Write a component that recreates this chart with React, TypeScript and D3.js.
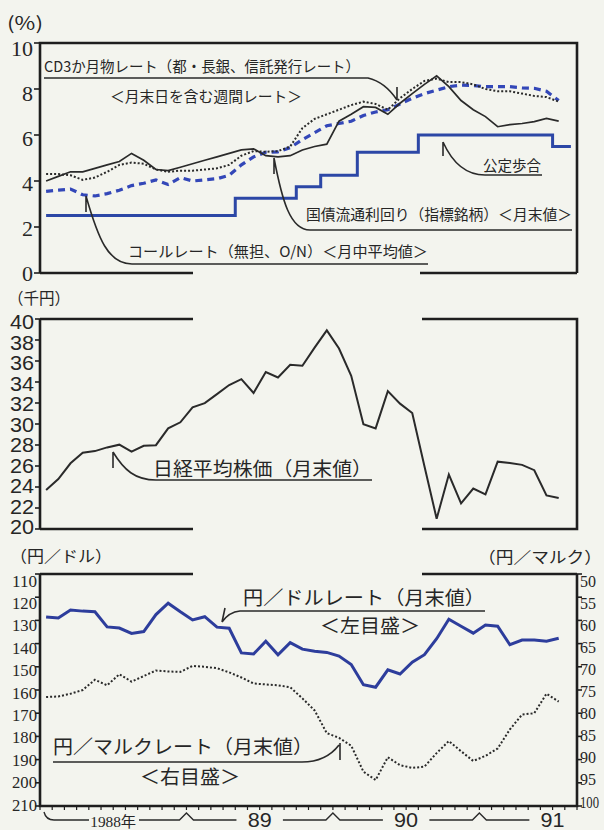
import React, { useEffect } from "react";
import * as d3 from "d3";

// Month index 0 = Jan 1988 ... 43 = Aug 1991 (values are month points)
const monthCount = 44;
const yearLabels = ["1988年", "89", "90", "91"];

// Panel 1 (%)
const cdRate = [
  4.0, 4.2, 4.4, 4.4, 4.55, 4.7, 4.85, 5.2, 4.9, 4.5, 4.45, 4.6,
  4.75, 4.9, 5.05, 5.2, 5.35, 5.4, 5.1, 5.05, 5.1, 5.35, 5.5, 5.6,
  6.6, 6.9, 7.23, 7.2, 6.9, 7.38, 7.8, 8.2, 8.57, 8.1, 7.5, 7.1,
  6.8, 6.36, 6.45, 6.5, 6.58, 6.72, 6.6,
];
const bondYield = [
  4.3, 4.3, 4.25, 4.05, 4.15, 4.4, 4.7, 4.8, 4.75, 4.5, 4.4, 4.45,
  4.45, 4.5, 4.55, 4.7, 5.1, 5.3, 5.27, 5.3, 5.5, 6.3, 6.7, 6.9,
  7.1, 7.3, 7.45, 7.35, 7.1, 7.6, 8.0, 8.35, 8.45, 8.3, 8.3, 8.2,
  8.0, 7.9, 7.9, 7.8, 7.7, 7.65, 7.45,
];
const callRate = [
  3.55, 3.6, 3.65, 3.4, 3.35, 3.45, 3.6, 3.8, 3.9, 4.05, 3.85, 4.15,
  4.0, 4.05, 4.1, 4.25, 4.7, 5.05, 5.25, 5.27, 5.45, 5.8, 6.1, 6.4,
  6.5, 6.6, 6.85, 7.0, 7.1, 7.35, 7.6, 7.8, 7.95, 8.1, 8.17, 8.15,
  8.1, 8.1, 8.1, 8.05, 8.03, 7.9, 7.5,
];
const discountRate = [
  2.5, 2.5, 2.5, 2.5, 2.5, 2.5, 2.5, 2.5, 2.5, 2.5, 2.5, 2.5,
  2.5, 2.5, 2.5, 2.5, 3.25, 3.25, 3.25, 3.25, 3.25, 3.75, 3.75, 4.25,
  4.25, 4.25, 5.25, 5.25, 5.25, 5.25, 5.25, 6.0, 6.0, 6.0, 6.0, 6.0,
  6.0, 6.0, 6.0, 6.0, 6.0, 6.0, 5.5, 5.5,
];
const pctTicks = [0, 2, 4, 6, 8, 10];

// Panel 2 (thousand yen)
const nikkei = [
  23.72, 24.76, 26.26, 27.26, 27.42, 27.77, 28.03, 27.37, 27.92, 27.98, 29.58, 30.16,
  31.58, 31.99, 32.84, 33.71, 34.27, 32.95, 34.95, 34.43, 35.64, 35.55, 37.27, 38.92,
  37.19, 34.59, 29.98, 29.58, 33.13, 31.94, 31.04, 25.98, 20.98, 25.19, 22.45, 23.85,
  23.29, 26.41, 26.29, 26.11, 25.6, 23.2, 22.95,
];
const nikkeiTicks = [20, 22, 24, 26, 28, 30, 32, 34, 36, 38, 40];

// Panel 3
const usdJpy = [
  128.5, 129.0, 125.5, 126.0, 126.3, 132.8, 133.3, 135.6, 134.8, 127.5, 122.6, 126.3,
  129.8, 128.4, 132.9, 133.4, 144.0, 144.5, 139.0, 144.8, 139.6, 142.4, 143.3, 143.8,
  145.4, 149.0, 157.7, 158.8, 151.3, 153.1, 148.0, 144.8, 137.9, 129.5, 132.5, 135.5,
  132.0, 132.5, 140.5, 138.5, 138.5, 139.0, 137.7,
];
const demJpy = [
  76.5, 76.4, 75.8, 75.0, 72.8, 74.0, 71.6, 73.2, 72.0, 70.8, 71.0, 71.1,
  69.8, 70.0, 70.3, 71.2, 72.3, 73.6, 73.8, 74.0, 74.4, 76.8, 79.4, 84.3,
  85.3, 87.0, 92.6, 94.4, 89.5, 91.2, 91.8, 91.5, 88.6, 86.0, 88.2, 90.3,
  89.2, 87.6, 83.5, 80.3, 80.0, 75.8, 77.5,
];
const usdTicks = [110, 120, 130, 140, 150, 160, 170, 180, 190, 200, 210];
const demTicks = [50, 55, 60, 65, 70, 75, 80, 85, 90, 95, 100];

const INK = "#1e1e1e";
const LINE = "#2a2a2a";
const BLUE = "#2c47a6";
const JP = "'Noto Sans CJK JP', 'Noto Sans', sans-serif";
const SERIF = "'Liberation Serif', 'DejaVu Serif', serif";
const SANS = "'Liberation Sans', 'DejaVu Sans', sans-serif";

function Label(props: {
  x: number; y: number; text: string; size: number; width?: number;
  anchor?: string; family?: string;
}) {
  const { x, y, text, size, width, anchor, family } = props;
  return (
    <text
      x={x}
      y={y}
      fontSize={size}
      fontFamily={family || JP}
      fill="#262626"
      dominantBaseline="central"
      textAnchor={anchor || "start"}
      {...(width ? { textLength: width, lengthAdjust: "spacingAndGlyphs" } : {})}
    >
      {text}
    </text>
  );
}

// label nudge: labels sit a little below their tick near the top of an axis
const nudge = (frac: number, top: number, bottom: number) => top + (bottom - top) * frac;

export default function App() {
  useEffect(() => {
    document.body.style.margin = "0";
  }, []);

  const x = d3.scaleLinear().domain([0, monthCount]).range([40, 577]);
  const cx = (i: number) => x(i + 0.5);
  const y1 = d3.scaleLinear().domain([0, 10]).range([273, 43]);
  const y2 = d3.scaleLinear().domain([20, 40]).range([529, 319]);
  const y3l = d3.scaleLinear().domain([110, 210]).range([574, 806]);
  const y3r = d3.scaleLinear().domain([50, 100]).range([574, 806]);

  const mk = (ys: d3.ScaleLinear<number, number>, curve = d3.curveLinear) =>
    d3.line<number>().x((_, i) => cx(i)).y((d) => ys(d)).curve(curve);

  const frame = { stroke: INK, strokeWidth: 2.6, fill: "none" };

  const yb = [x(12), x(24), x(36)];
  const yc = [x(6), x(18), x(30), x(42)];

  return (
    <svg
      width={604}
      height={830}
      viewBox="0 0 604 830"
      style={{ position: "absolute", left: 0, top: 0, display: "block" }}
    >
      <rect x={0} y={0} width={604} height={830} fill="#f3f4ee" />

      {/* ---------------- Panel 1 ---------------- */}
      <Label x={7} y={22} text="(%)" size={18} width={36} />
      <path d="M40,273 V43 H577 V273" {...frame} />
      <path d="M40,273 H193 M420,273 H577" {...frame} />
      {pctTicks.map((t, i) => (
        <g key={"p1" + t}>
          <line x1={34} x2={40} y1={y1(t)} y2={y1(t)} stroke={INK} strokeWidth={1.6} />
          <Label
            x={33}
            y={y1(t) + nudge(i / (pctTicks.length - 1), 0, 5)}
            text={String(t)}
            size={22}
            anchor="end"
            family={SERIF}
          />
        </g>
      ))}
      <path d={mk(y1, d3.curveStep)(discountRate) || ""} fill="none" stroke={BLUE} strokeWidth={3} />
      <path d={mk(y1)(callRate) || ""} fill="none" stroke="#3347b8" strokeWidth={3.2} strokeDasharray="7 5" />
      <path d={mk(y1)(bondYield) || ""} fill="none" stroke={LINE} strokeWidth={2} strokeDasharray="2 2" />
      <path d={mk(y1)(cdRate) || ""} fill="none" stroke={LINE} strokeWidth={1.7} />

      <Label x={44} y={65} text="CD3か月物レート（都・長銀、信託発行レート）" size={15} width={316} />
      <path d="M44,78 H368 Q385,82 397,100 M397,100 V87" fill="none" stroke={LINE} strokeWidth={1.6} />
      <Label x={110} y={95} text="＜月末日を含む週間レート＞" size={15} width={192} />

      <Label x={483} y={164} text="公定歩合" size={15} width={58} />
      <path d="M443,142 C452,162 465,175 485,175 H542 M443,142 V156" fill="none" stroke={LINE} strokeWidth={1.6} />

      <Label x={306} y={213} text="国債流通利回り（指標銘柄）＜月末値＞" size={15} width={266} />
      <path d="M274,158 C282,200 290,230 310,230 H572 M274,158 V174" fill="none" stroke={LINE} strokeWidth={1.6} />

      <Label x={128} y={250} text="コールレート（無担、O/N）＜月中平均値＞" size={15} width={300} />
      <path d="M86,196 C98,238 108,264 132,264 H428 M86,196 V212" fill="none" stroke={LINE} strokeWidth={1.6} />

      {/* ---------------- Panel 2 ---------------- */}
      <Label x={8} y={297} text="（千円）" size={16} width={62} />
      <path d="M40,319 V529 M40,319 H193 M40,529 H193 M422,319 H577 V529 H422" {...frame} />
      {nikkeiTicks.map((t, i) => (
        <g key={"p2" + t}>
          <line x1={35} x2={40} y1={y2(t)} y2={y2(t)} stroke={INK} strokeWidth={1.6} />
          <Label
            x={34}
            y={y2(t) + nudge(i / (nikkeiTicks.length - 1), -2, 3)}
            text={String(t)}
            size={20}
            width={24}
            anchor="end"
            family={SANS}
          />
        </g>
      ))}
      <path d={mk(y2)(nikkei) || ""} fill="none" stroke={LINE} strokeWidth={2} />
      <Label x={153} y={467} text="日経平均株価（月末値）" size={19} width={219} />
      <path d="M113,452 C124,470 135,480 156,480 H372 M113,452 V468" fill="none" stroke={LINE} strokeWidth={1.6} />

      {/* ---------------- Panel 3 ---------------- */}
      <Label x={10} y={555} text="（円／ドル）" size={16} width={102} />
      <Label x={478} y={556} text="（円／マルク）" size={16} width={124} />
      <path d="M40,574 V806 H577 V574 M40,574 H193 M422,574 H577" {...frame} />
      {usdTicks.map((t, i) => (
        <g key={"p3l" + t}>
          <line x1={35} x2={40} y1={y3l(t)} y2={y3l(t)} stroke={INK} strokeWidth={1.6} />
          <Label
            x={37}
            y={y3l(t) + nudge(i / (usdTicks.length - 1), 7, -1)}
            text={String(t)}
            size={17}
            width={25}
            anchor="end"
            family={SERIF}
          />
        </g>
      ))}
      {demTicks.map((t, i) => (
        <g key={"p3r" + t}>
          <line x1={577} x2={582} y1={y3r(t)} y2={y3r(t)} stroke={INK} strokeWidth={1.6} />
          <Label
            x={580}
            y={y3r(t) + nudge(i / (demTicks.length - 1), 7, -4)}
            text={String(t)}
            size={16}
            width={t >= 100 ? 19 : 16}
            family={SERIF}
          />
        </g>
      ))}
      {d3.range(monthCount + 1).map((k) => (
        <line key={"mt" + k} x1={x(k)} x2={x(k)} y1={806} y2={810} stroke={INK} strokeWidth={1.2} />
      ))}
      <path d={mk(y3r)(demJpy) || ""} fill="none" stroke={LINE} strokeWidth={2} strokeDasharray="2 2" />
      <path d={mk(y3l)(usdJpy) || ""} fill="none" stroke="#2d3d9c" strokeWidth={3} />

      <Label x={243} y={596} text="円／ドルレート（月末値）" size={19} width={242} />
      <path d="M485,611 H240 Q229,612 222,622 M222,622 L225,608" fill="none" stroke={LINE} strokeWidth={1.6} />
      <Label x={320} y={624} text="＜左目盛＞" size={19} width={100} />

      <Label x={53} y={745} text="円／マルクレート（月末値）" size={19} width={260} />
      <path d="M53,762 H302 Q326,762 339,745 M340,743 V760" fill="none" stroke={LINE} strokeWidth={1.6} />
      <Label x={140} y={775} text="＜右目盛＞" size={19} width={100} />

      {/* x-axis year brackets */}
      <path
        d={
          `M44,812 Q46,820 54,820 H89 ` +
          `M139,820 H${yb[0] - 7} L${yb[0]},813 L${yb[0] + 7},820 H${yb[0] + 50} ` +
          `M${yb[1] - 50},820 H${yb[1] - 7} L${yb[1]},813 L${yb[1] + 7},820 H${yb[1] + 50} ` +
          `M${yb[2] - 50},820 H${yb[2] - 7} L${yb[2]},813 L${yb[2] + 7},820 H${yb[2] + 50}`
        }
        fill="none"
        stroke={LINE}
        strokeWidth={1.4}
      />
      {yearLabels.map((lab, i) => (
        <Label
          key={lab}
          x={yc[i]}
          y={i === 0 ? 822 : 820}
          text={lab}
          size={i === 0 ? 15 : 20}
          width={i === 0 ? 46 : 24}
          anchor="middle"
          family={i === 0 ? `${SERIF}, ${JP}` : SANS}
        />
      ))}
    </svg>
  );
}
